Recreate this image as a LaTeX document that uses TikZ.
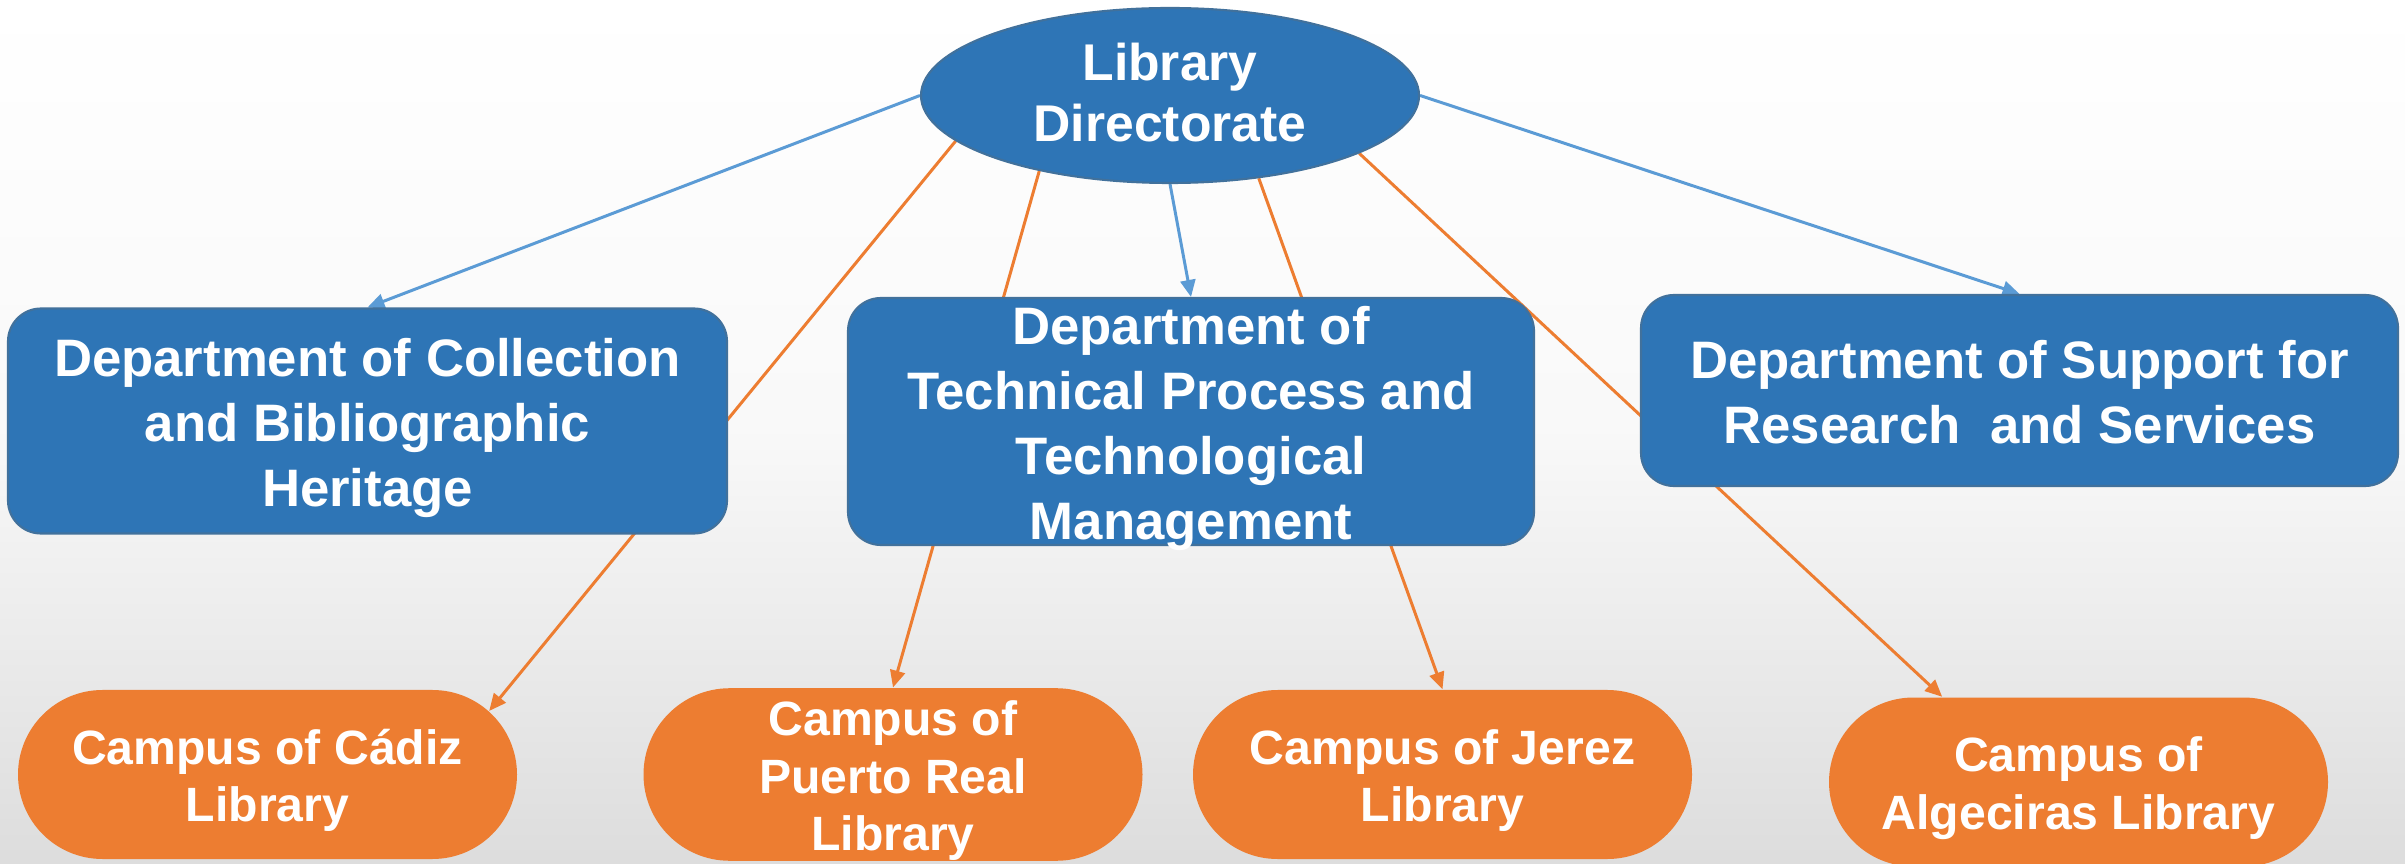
\documentclass[tikz,border=0pt]{standalone}
\usepackage{fontspec}
\setmainfont{Liberation Sans}
\usetikzlibrary{shapes.geometric,shapes.misc,arrows.meta}
\definecolor{dirblue}{HTML}{2E75B6}
\definecolor{edgeblue}{HTML}{41719C}
\definecolor{lineblue}{HTML}{5B9BD5}
\definecolor{camporange}{HTML}{ED7D31}
\pgfdeclarelayer{back}
\pgfdeclarelayer{lines}
\pgfsetlayers{back,lines,main}
% struts, so that the text sits in the box as in the slide
\newcommand{\topst}{\rule{0pt}{0.98em}}
\newcommand{\botst}{\rule[-0.21em]{0pt}{0.21em}}

\begin{document}
\begin{tikzpicture}[
    dept/.style={shape=rectangle,rounded corners=0.33cm,fill=dirblue,draw=edgeblue,line width=0.6pt,
        text=white,font=\fontsize{15}{18.5}\selectfont\bfseries,align=center,inner sep=0pt},
    campus/.style={shape=rounded rectangle,fill=camporange,text=white,
        font=\fontsize{13.7}{16.4}\selectfont\bfseries,align=center,
        minimum width=4.99cm,minimum height=1.69cm,inner sep=0pt},
    blueline/.style={draw=lineblue,line width=0.85pt,-{Triangle[length=0.17cm,width=0.15cm]}},
    orangeline/.style={draw=camporange,line width=0.85pt,-{Triangle[length=0.17cm,width=0.15cm]}}
]
    \useasboundingbox (0,0) rectangle (24.05,-8.64);

    \begin{pgfonlayer}{back}
        \shade[top color=white,bottom color=gray!27,middle color=gray!5] (0,0) rectangle (24.05,-8.64);
    \end{pgfonlayer}

    \node[shape=ellipse,fill=dirblue,draw=edgeblue,line width=0.6pt,minimum width=4.98cm,minimum height=1.75cm,
        inner sep=0pt,text=white,font=\fontsize{14.7}{17.4}\selectfont\bfseries,align=center]
        (dir) at (11.70,-0.955) {Library\\Directorate\rule[-0.12em]{0pt}{0.12em}};

    \node[dept,minimum width=7.19cm,minimum height=2.25cm] (col) at (3.675,-4.21)
        {\topst Department of Collection\\and Bibliographic\\Heritage\botst};
    % the text runs over the box here, as in the slide
    \node[dept,inner ysep=-0.2cm,minimum width=6.86cm,minimum height=2.47cm] (tech) at (11.91,-4.215)
        {\topst Department of\\Technical Process and\\Technological\\Management\botst};
    \node[dept,minimum width=7.57cm,minimum height=1.91cm] (supp) at (20.195,-3.905)
        {\topst Department of Support for\\Research\ \ and Services\botst};

    \node[campus] (cadiz) at (2.675,-7.745) {\topst Campus of Cádiz\\Library\botst};
    \node[campus] (puerto) at (8.93,-7.745) {\topst Campus of\\Puerto Real\\Library\botst};
    \node[campus] (jerez) at (14.425,-7.745) {\topst Campus of Jerez\\Library\botst};
    \node[campus] (alg) at (20.785,-7.82) {\topst Campus of\\Algeciras Library\botst};

    \begin{pgfonlayer}{lines}
        \draw[blueline] (dir.west) -- (col.north);
        \draw[blueline] (dir.south) -- (tech.north);
        \draw[blueline] (dir.east) -- (supp.north);
        \draw[orangeline] (dir.192.7) -- (cadiz.16);
        \draw[orangeline] (dir.210.5) -- (puerto.north);
        \draw[orangeline] (dir.317) -- (jerez.north);
        \draw[orangeline] (dir.343.6) -- (alg.148);
    \end{pgfonlayer}
\end{tikzpicture}
\end{document}
